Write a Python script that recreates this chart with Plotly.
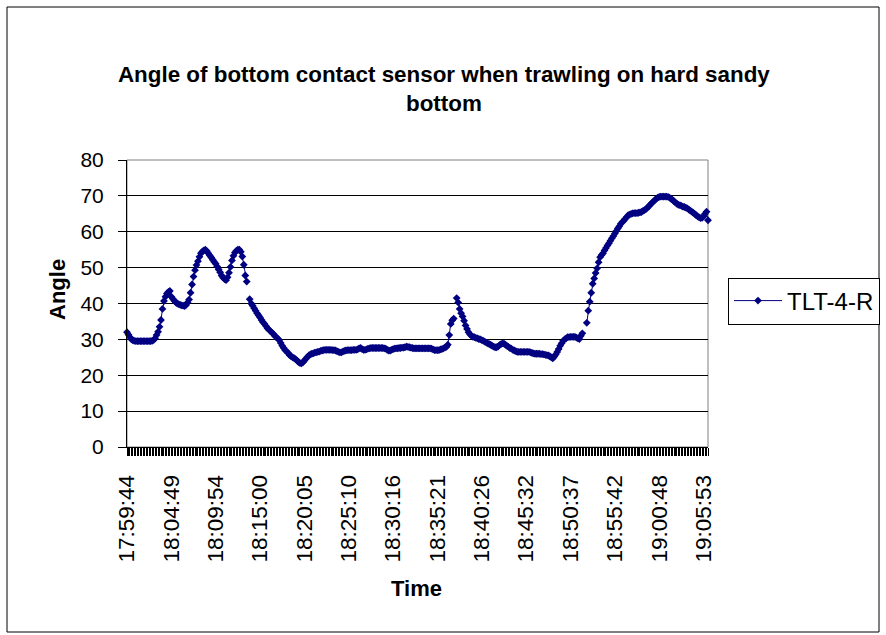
import plotly.graph_objects as go

# Tilt-sensor angle readings (degrees), one value per logged sample
angle = [
    32.0, 31.3, 30.6, 30.0, 29.7, 29.6, 29.5, 29.5, 29.5, 29.5,
    29.5, 29.5, 29.5, 29.5, 29.5, 29.5, 29.5, 29.6, 29.8, 30.3,
    31.2, 32.1, 33.5, 35.4, 38.5, 40.7, 41.9, 42.8, 43.2, 43.5,
    41.9, 41.3, 40.8, 40.3, 40.0, 39.8, 39.6, 39.5, 39.4, 39.3,
    39.6, 40.3, 41.1, 43.0, 45.3, 47.5, 49.3, 50.7, 51.8, 53.0,
    54.0, 54.5, 54.8, 55.0, 54.6, 54.0, 53.4, 52.8, 52.2, 51.6,
    51.1, 50.3, 49.5, 48.7, 47.8, 47.2, 46.8, 46.5, 47.3, 48.6,
    50.2, 52.0, 53.3, 54.2, 54.7, 55.0, 55.0, 54.4, 53.1, 50.8,
    47.8, 46.1, None, 41.2, 40.0, 39.4, 38.7, 38.0, 37.3, 36.7,
    36.1, 35.4, 34.8, 34.3, 33.7, 33.1, 32.7, 32.3, 31.9, 31.5,
    31.0, 30.6, 30.2, 29.8, 29.0, 28.2, 27.6, 27.0, 26.6, 26.2,
    25.6, 25.3, 25.0, 24.8, 24.5, 24.1, 23.7, 23.4, 23.3, 23.6,
    24.1, 24.6, 25.1, 25.5, 25.8, 26.0, 26.1, 26.3, 26.4, 26.5,
    26.6, 26.8, 26.9, 27.0, 27.1, 27.1, 27.1, 27.1, 27.1, 27.0,
    27.0, 26.9, 26.7, 26.5, 26.4, 26.4, 26.6, 26.8, 26.9, 27.0,
    27.0, 27.0, 27.0, 27.1, 27.1, 27.1, 27.2, 27.5, 27.6, 27.3,
    27.1, 27.1, 27.2, 27.4, 27.5, 27.6, 27.6, 27.6, 27.6, 27.6,
    27.6, 27.6, 27.6, 27.6, 27.5, 27.4, 27.1, 26.9, 26.9, 27.1,
    27.3, 27.4, 27.5, 27.5, 27.6, 27.6, 27.7, 27.7, 27.8, 28.0,
    27.9, 27.8, 27.7, 27.6, 27.5, 27.5, 27.5, 27.5, 27.5, 27.5,
    27.5, 27.5, 27.5, 27.5, 27.5, 27.5, 27.4, 27.2, 27.0, 27.0,
    27.0, 27.0, 27.2, 27.3, 27.5, 27.7, 27.9, 28.5, 31.2, 34.3,
    35.3, 35.8, None, 41.5, 40.3, 38.5, 37.3, 36.4, 35.2, 33.9,
    32.9, 32.0, 31.4, 31.0, 30.7, 30.6, 30.4, 30.3, 30.1, 30.0,
    29.8, 29.6, 29.4, 29.1, 28.9, 28.7, 28.5, 28.2, 28.0, 27.8,
    27.8, 28.0, 28.4, 28.7, 28.9, 28.8, 28.5, 28.2, 27.9, 27.6,
    27.4, 27.1, 26.9, 26.7, 26.5, 26.5, 26.5, 26.5, 26.5, 26.5,
    26.5, 26.5, 26.5, 26.4, 26.2, 26.1, 26.0, 26.0, 26.0, 26.0,
    25.9, 25.9, 25.8, 25.7, 25.6, 25.5, 25.3, 25.0, 24.7, 25.2,
    25.8, 26.5, 27.3, 28.2, 28.9, 29.6, 30.0, 30.3, 30.6, 30.6,
    30.7, 30.7, 30.7, 30.7, 30.5, 30.3, 30.1, 31.0, 31.7, None,
    None, 34.6, 38.0, 40.5, 43.0, 45.5, 47.0, 48.5, 49.8, 51.5,
    52.9, 53.5, 54.0, 54.8, 55.5, 56.2, 56.8, 57.5, 58.2, 58.8,
    59.5, 60.2, 60.9, 61.5, 62.2, 62.7, 63.1, 63.6, 64.1, 64.6,
    64.8, 65.0, 65.1, 65.2, 65.2, 65.2, 65.3, 65.4, 65.5, 65.8,
    66.0, 66.3, 66.7, 67.1, 67.6, 68.0, 68.4, 68.8, 69.2, 69.5,
    69.7, 69.8, 69.8, 69.8, 69.8, 69.8, 69.7, 69.5, 69.2, 68.9,
    68.5, 68.1, 67.8, 67.5, 67.4, 67.2, 67.0, 66.9, 66.7, 66.5,
    66.2, 65.9, 65.6, 65.3, 65.0, 64.6, 64.3, 64.0, 63.8, 63.9,
    64.3, 65.0, 65.6, 63.2,
]

# Time labels shown on the category axis (one every 30 samples)
time_labels = [
    "17:59:44", "18:04:49", "18:09:54", "18:15:00", "18:20:05",
    "18:25:10", "18:30:16", "18:35:21", "18:40:26", "18:45:32",
    "18:50:37", "18:55:42", "19:00:48", "19:05:53",
]
samples_per_label = 30
series_name = "TLT-4-R"

n = len(angle)
sample_index = list(range(n))
tick_positions = [i * samples_per_label for i in range(len(time_labels))]

FONT = "Liberation Sans, Arial, sans-serif"
NAVY = "#000080"

fig = go.Figure()
fig.add_trace(go.Scatter(
    x=sample_index, y=angle, name=series_name, mode="lines+markers",
    line=dict(color=NAVY, width=1),
    marker=dict(symbol="diamond", size=6, color=NAVY),
    connectgaps=False, cliponaxis=False,
))

W, H = 886, 635
L, R, T, B = 127, 178, 160, 188
pw, ph = W - L - R, H - T - B


def px(xp):
    return (xp - L) / pw


def py(yp):
    return (H - B - yp) / ph


fig.update_layout(
    width=W, height=H,
    margin=dict(l=L, r=R, t=T, b=B, pad=0, autoexpand=False),
    paper_bgcolor="white", plot_bgcolor="white",
    font=dict(family=FONT, size=21, color="black"),
    title=dict(
        text="<b>Angle of bottom contact sensor when trawling on hard sandy<br>bottom</b>",
        x=0.501, xref="container", xanchor="center",
        y=1 - 82 / H, yref="container", yanchor="top",
        font=dict(family=FONT, size=22.4, color="black"),
    ),
    showlegend=True,
    legend=dict(
        x=px(728), xanchor="left", y=py(301), yanchor="middle",
        bordercolor="black", borderwidth=1, bgcolor="white",
        font=dict(family=FONT, size=24, color="black"),
        itemwidth=48,
    ),
    xaxis=dict(
        range=[0, n - 1], showgrid=False, zeroline=False,
        showline=True, linecolor="black", linewidth=1,
        tickmode="array", tickvals=tick_positions, ticktext=time_labels,
        tickangle=-90, ticks="outside", ticklen=8, tickcolor="black",
        tickfont=dict(family=FONT, size=22.5),
        ticklabelstandoff=10, automargin=False,
        minor=dict(tickmode="linear", tick0=0, dtick=1, ticks="outside",
                   ticklen=8, tickcolor="black", tickwidth=1, showgrid=False),
    ),
    yaxis=dict(
        range=[0, 80], dtick=10, tick0=0,
        showgrid=True, gridcolor="black", gridwidth=1, zeroline=False,
        showline=True, linecolor="black", linewidth=1,
        ticks="outside", ticklen=8, tickcolor="black",
        tickfont=dict(family=FONT, size=21),
        ticklabelstandoff=10, automargin=False,
    ),
    annotations=[
        dict(text="<b>Angle</b>", textangle=-90, xref="paper", yref="paper",
             x=px(57), y=py(290), xanchor="center", yanchor="middle",
             showarrow=False, font=dict(family=FONT, size=22)),
        dict(text="<b>Time</b>", xref="paper", yref="paper",
             x=px(416), y=py(588), xanchor="center", yanchor="middle",
             showarrow=False, font=dict(family=FONT, size=22)),
    ],
    shapes=[
        # plot-area frame (grey on top/right)
        dict(type="rect", xref="paper", yref="paper", x0=0, x1=1, y0=0, y1=1,
             line=dict(color="#808080", width=1), layer="below"),
        # outer chart border
        dict(type="rect", xref="paper", yref="paper",
             x0=px(7), x1=px(879), y0=py(632), y1=py(7),
             line=dict(color="black", width=1), layer="below"),
    ],
)

fig.write_html(
    "out.html",
    config={"displayModeBar": False},
    post_script="document.body.style.margin='0';document.body.style.padding='0';",
)
